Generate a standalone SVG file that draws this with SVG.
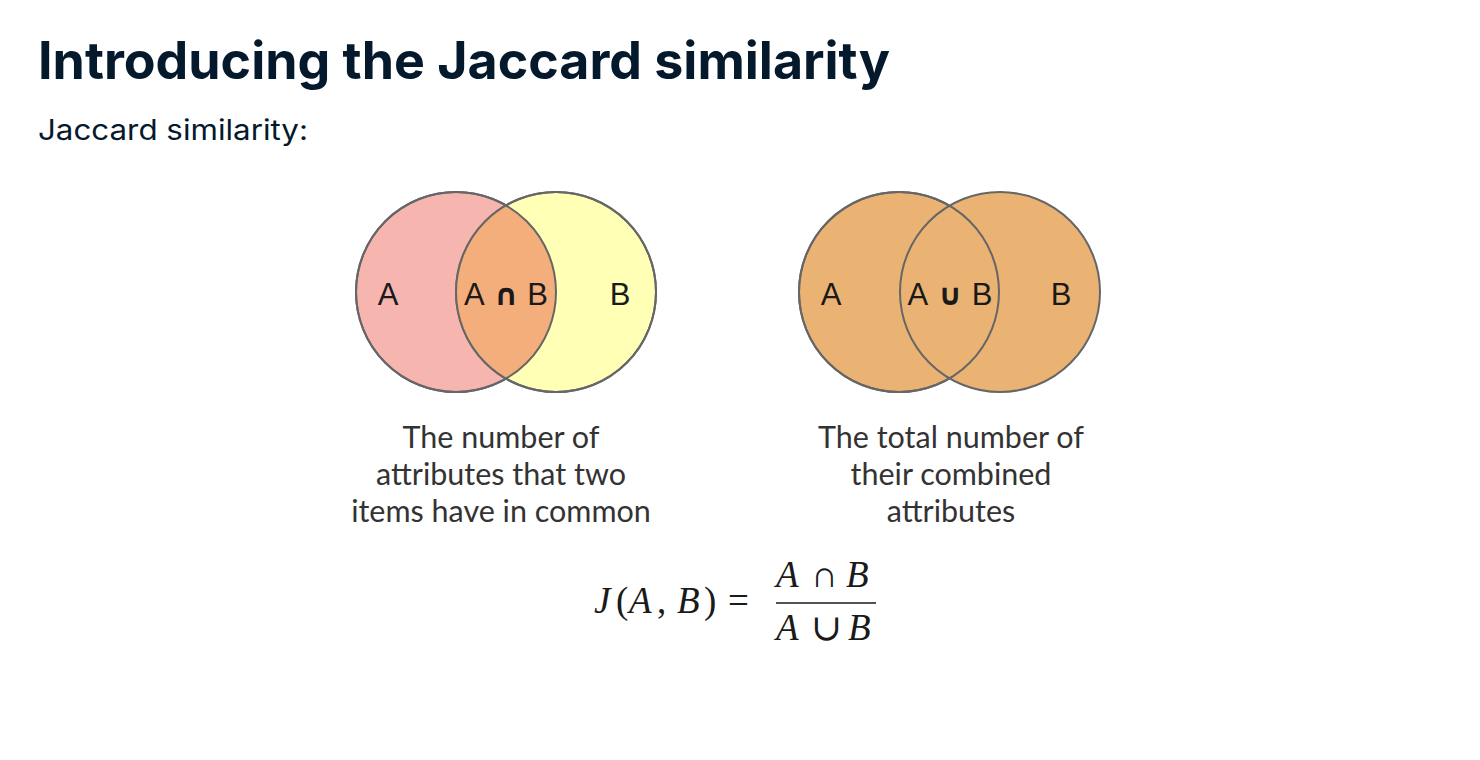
<svg xmlns="http://www.w3.org/2000/svg" width="1480" height="760" viewBox="0 0 1480 760">
<style>
.title{font-family:Inter,"Open Sans","Liberation Sans",sans-serif;font-weight:700;fill:#05192D}
.sub{font-family:Inter,"Open Sans","Liberation Sans",sans-serif;fill:#05192D}
.circ{stroke:#666;stroke-width:2}
.lbl{font-family:"Liberation Sans","DejaVu Sans",sans-serif;font-size:31px;fill:#1a1a1a;text-anchor:middle}
.sym{font-family:"DejaVu Sans",sans-serif;font-weight:700;font-size:30px}
.cap{font-family:Lato,"Open Sans",sans-serif;font-size:30.5px;fill:#333;text-anchor:middle}
.math{font-family:"Liberation Serif","DejaVu Serif",serif;font-size:37px;fill:#1a1a1a}
.mi{font-style:italic}
</style>
<rect width="1480" height="760" fill="#fff"/>
<text class="title" x="38" y="79" font-size="52" textLength="852" lengthAdjust="spacingAndGlyphs">Introducing the Jaccard similarity</text>
<text class="sub" x="38" y="140" font-size="28" textLength="270" lengthAdjust="spacingAndGlyphs">Jaccard similarity:</text>

<g id="venn-intersection">
<defs><clipPath id="clipA"><circle cx="456" cy="292" r="100"/></clipPath></defs>
<circle class="circ" cx="456" cy="292" r="100" fill="#F7B5B0"/>
<circle class="circ" cx="556" cy="292" r="100" fill="#FFFFB5"/>
<circle cx="556" cy="292" r="100" fill="#F4AE7C" clip-path="url(#clipA)"/>
<circle cx="456" cy="292" r="100" fill="none" stroke="#666" stroke-width="2"/>
<circle cx="556" cy="292" r="100" fill="none" stroke="#666" stroke-width="2"/>
<text class="lbl" x="388" y="305">A</text>
<text class="lbl" x="506" y="305" textLength="84" lengthAdjust="spacing">A<tspan class="sym">∩</tspan>B</text>
<text class="lbl" x="620" y="305">B</text>
</g>

<g id="venn-union">
<circle class="circ" cx="899" cy="292" r="100" fill="#EBB373"/>
<circle class="circ" cx="1000" cy="292" r="100" fill="#EBB373"/>
<circle cx="899" cy="292" r="100" fill="none" stroke="#666" stroke-width="2"/>
<text class="lbl" x="831" y="305">A</text>
<text class="lbl" x="950" y="305" textLength="85" lengthAdjust="spacing">A<tspan class="sym">∪</tspan>B</text>
<text class="lbl" x="1061" y="305">B</text>
</g>

<g id="caption-intersection">
<text class="cap" x="501" y="448">The number of</text>
<text class="cap" x="501" y="485">attributes that two</text>
<text class="cap" x="501" y="522">items have in common</text>
</g>
<g id="caption-union">
<text class="cap" x="951" y="448">The total number of</text>
<text class="cap" x="951" y="485">their combined</text>
<text class="cap" x="951" y="522">attributes</text>
</g>

<g id="formula">
<text class="math" y="613"><tspan class="mi" x="594">J</tspan><tspan x="616">(</tspan><tspan class="mi" x="629">A</tspan><tspan x="657">,</tspan><tspan class="mi" x="677">B</tspan><tspan x="704">)</tspan><tspan x="728">=</tspan></text>
<text class="math" y="587"><tspan class="mi" x="776">A</tspan><tspan x="811">∩</tspan><tspan class="mi" x="846">B</tspan></text>
<line x1="776" y1="603" x2="876" y2="603" stroke="#1a1a1a" stroke-width="1.6"/>
<text class="math" y="640"><tspan class="mi" x="776">A</tspan><tspan x="811">∪</tspan><tspan class="mi" x="848">B</tspan></text>
</g>
</svg>
